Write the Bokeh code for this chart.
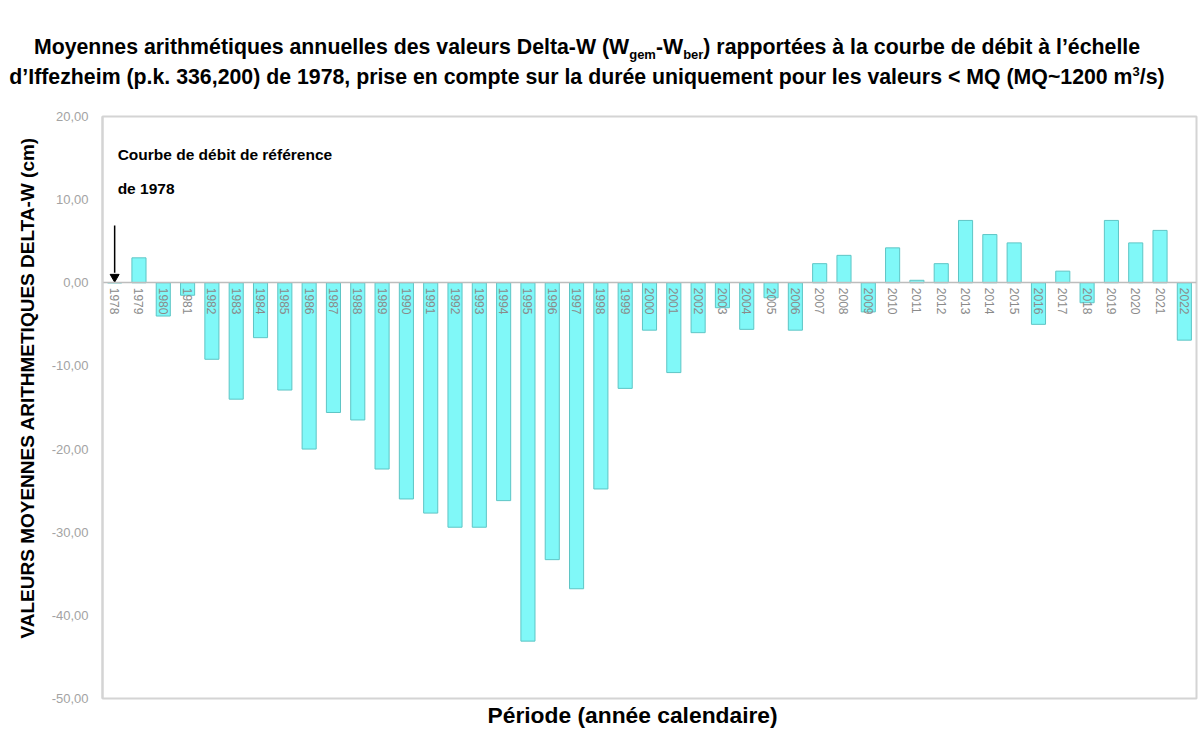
from bokeh.plotting import figure
from bokeh.models import Div, FixedTicker, ColumnDataSource, Title
from bokeh.layouts import column
from bokeh.embed import file_html
from bokeh.resources import INLINE
from bokeh.core.properties import value

# ---- data ----
years = [str(y) for y in range(1978, 2023)]
delta_w = [0.0, 3.0, -4.0, -1.5, -9.2, -14.0, -6.6, -12.9, -20.0, -15.6,
           -16.5, -22.4, -26.0, -27.7, -29.4, -29.4, -26.2, -43.1, -33.3, -36.8,
           -24.8, -12.7, -5.7, -10.8, -6.0, -3.0, -5.6, -1.8, -5.7, 2.3,
           3.3, -3.5, 4.2, 0.3, 2.3, 7.5, 5.8, 4.8, -5.0, 1.4,
           -2.4, 7.5, 4.8, 6.3, -6.9]
y_ticks = [-50, -40, -30, -20, -10, 0, 10, 20]
y_tick_labels = ["-50,00", "-40,00", "-30,00", "-20,00", "-10,00", "0,00", "10,00", "20,00"]
annot_lines = ["Courbe de débit de référence", "de 1978"]
annot_y = [15.4, 11.4]
arrow_top = 6.9
arrow_head = 0.7

FONT = "Liberation Sans"

sub = 'style="font-size:13px;line-height:0"'
title_html = (
    '<div style="font-family:\'Liberation Sans\',Arial,sans-serif;font-weight:bold;'
    'font-size:21.3px;line-height:30px;text-align:center;color:#000;padding-top:32px;'
    'width:1174px;white-space:nowrap;">'
    f'Moyennes arithmétiques annuelles des valeurs Delta-W (W<sub {sub}>gem</sub>-'
    f'W<sub {sub}>ber</sub>) rapportées à la courbe de débit à l’échelle<br>'
    'd’Iffezheim (p.k. 336,200) de 1978, prise en compte sur la durée uniquement pour les valeurs &lt; MQ '
    f'(MQ~1200 m<sup {sub}>3</sup>/s)</div>'
)
title_div = Div(text=title_html, width=1198, height=110, margin=(0, 0, 0, 0))

p = figure(x_range=years, y_range=(-50, 20), width=1198, height=618,
           output_backend="svg", toolbar_location=None,
           min_border_left=102, min_border_right=2, min_border_top=6, min_border_bottom=30)
p.xgrid.visible = False
p.ygrid.visible = False
p.outline_line_color = "#d4d4d4"
p.outline_line_width = 2
p.x_range.range_padding = 0

src = ColumnDataSource(dict(year=years, dw=delta_w))
p.vbar(x="year", top="dw", width=0.58, source=src,
       fill_color="#80f8f8", line_color="#5ec5c5", line_width=1)

# year axis at zero
xa = p.xaxis[0]
xa.fixed_location = 0
xa.major_label_orientation = "vertical"
xa.major_label_text_font = FONT
xa.major_label_text_font_size = "12px"
xa.major_label_text_color = "#8a8a8a"
xa.major_label_standoff = 5
xa.major_tick_line_color = None
xa.major_tick_out = 0
xa.axis_line_color = "#bdbdbd"
xa.axis_line_width = 1.5

ya = p.yaxis[0]
ya.ticker = FixedTicker(ticks=y_ticks)
ya.major_label_overrides = {t: l for t, l in zip(y_ticks, y_tick_labels)}
ya.major_label_text_font = FONT
ya.major_label_text_font_size = "13px"
ya.major_label_text_color = "#a3a3a3"
ya.major_tick_out = 0
ya.major_tick_in = 0
ya.major_label_standoff = 14
ya.major_tick_line_color = None
ya.minor_tick_line_color = None
ya.axis_line_color = "#d4d4d4"
ya.axis_line_width = 2

# axis titles
p.add_layout(Title(text="VALEURS MOYENNES ARITHMETIQUES DELTA-W (cm)", align="left",
                   offset=60, standoff=21, text_font=FONT, text_font_style="bold",
                   text_font_size="19px", text_color="#000000"), "left")
p.add_layout(Title(text="Période (année calendaire)", align="left", offset=385,
                   standoff=2, text_font=FONT, text_font_style="bold",
                   text_font_size="22.8px", text_color="#000000"), "below")

# annotation
p.text(x=[years[0]] * len(annot_lines), y=annot_y, text=annot_lines, x_offset=3,
       text_font=value(FONT), text_font_style="bold", text_font_size="15.5px",
       text_baseline="middle", text_align="left", text_color="#000000")
p.segment(x0=[years[0]], y0=[arrow_top], x1=[years[0]], y1=[arrow_head + 0.5],
          line_color="black", line_width=1.5)
p.scatter(x=[years[0]], y=[arrow_head], marker="inverted_triangle", size=9,
          fill_color="black", line_color="black")

layout = column(title_div, p, spacing=0)
open("out.html", "w").write(file_html(layout, INLINE))
